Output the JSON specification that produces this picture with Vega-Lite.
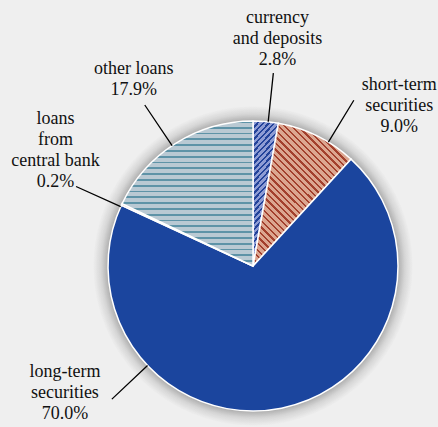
{
  "$schema": "https://vega.github.io/schema/vega-lite/v6.json",
  "autosize": {"type": "none"},
  "width": 370,
  "height": 322,
  "padding": {"left": 68, "top": 105, "right": 0, "bottom": 0},
  "background": "#efefef",
  "config": {"view": {"stroke": null}, "text": {"font": "Liberation Serif", "fontSize": 18, "lineHeight": 21, "lineBreak": "\n", "align": "center", "baseline": "middle", "color": "#111111"}},
  "datasets": {
    "shares": [
      {"cat": "currency and deposits", "share": 2.8, "ord": 1, "label": "currency\nand deposits\n2.8%", "line_at": 1.67, "label_at": 1.71},
      {"cat": "short-term securities", "share": 9.0, "ord": 2, "label": "short-term\nsecurities\n9.0%", "line_at": 8.69, "label_at": 11.75},
      {"cat": "long-term securities", "share": 70.0, "ord": 3, "label": "long-term\nsecurities\n70.0%", "line_at": 62.9, "label_at": 65.48},
      {"cat": "loans from central bank", "share": 0.2, "ord": 4, "label": "loans\nfrom\ncentral bank\n0.2%", "line_at": 81.64, "label_at": 83.37},
      {"cat": "other loans", "share": 17.9, "ord": 5, "label": "other loans\n17.9%", "line_at": 90.49, "label_at": 90.84}
    ]
  },
  "layer": [
    {
      "data": {"values": [{"halo": 1}]},
      "mark": {
        "type": "arc", "theta": 0, "theta2": 6.2832, "radius": 160,
        "fill": {"gradient": "radial", "x1": 0.5, "y1": 0.5, "r1": 0, "x2": 0.5, "y2": 0.5, "r2": 0.5,
          "stops": [
            {"offset": 0, "color": "rgba(60,60,60,0.4)"},
            {"offset": 0.9, "color": "rgba(60,60,60,0.4)"},
            {"offset": 0.95, "color": "rgba(60,60,60,0.14)"},
            {"offset": 1, "color": "rgba(60,60,60,0)"}
          ]}
      },
      "encoding": {}
    },
    {
      "data": {"name": "shares"},
      "mark": {"type": "arc", "radius": 145, "stroke": "#ffffff", "strokeWidth": 1.5},
      "encoding": {
        "theta": {"field": "share", "type": "quantitative", "stack": true},
        "detail": {"field": "cat"},
        "order": {"field": "ord", "type": "quantitative"},
        "fill": {
          "condition": [
            {"test": "datum.cat === 'currency and deposits'", "value": {"gradient": "linear", "x1": 0, "y1": 0, "x2": 0.19, "y2": 1, "stops": [
              {"offset": 0, "color": "#23439a"}, {"offset": 0.016, "color": "#23439a"}, {"offset": 0.016, "color": "#8e9cd4"}, {"offset": 0.04, "color": "#8e9cd4"},
              {"offset": 0.04, "color": "#23439a"}, {"offset": 0.056, "color": "#23439a"}, {"offset": 0.056, "color": "#8e9cd4"}, {"offset": 0.08, "color": "#8e9cd4"},
              {"offset": 0.08, "color": "#23439a"}, {"offset": 0.096, "color": "#23439a"}, {"offset": 0.096, "color": "#8e9cd4"}, {"offset": 0.12, "color": "#8e9cd4"},
              {"offset": 0.12, "color": "#23439a"}, {"offset": 0.136, "color": "#23439a"}, {"offset": 0.136, "color": "#8e9cd4"}, {"offset": 0.16, "color": "#8e9cd4"},
              {"offset": 0.16, "color": "#23439a"}, {"offset": 0.176, "color": "#23439a"}, {"offset": 0.176, "color": "#8e9cd4"}, {"offset": 0.2, "color": "#8e9cd4"},
              {"offset": 0.2, "color": "#23439a"}, {"offset": 0.216, "color": "#23439a"}, {"offset": 0.216, "color": "#8e9cd4"}, {"offset": 0.24, "color": "#8e9cd4"},
              {"offset": 0.24, "color": "#23439a"}, {"offset": 0.256, "color": "#23439a"}, {"offset": 0.256, "color": "#8e9cd4"}, {"offset": 0.28, "color": "#8e9cd4"},
              {"offset": 0.28, "color": "#23439a"}, {"offset": 0.296, "color": "#23439a"}, {"offset": 0.296, "color": "#8e9cd4"}, {"offset": 0.32, "color": "#8e9cd4"},
              {"offset": 0.32, "color": "#23439a"}, {"offset": 0.336, "color": "#23439a"}, {"offset": 0.336, "color": "#8e9cd4"}, {"offset": 0.36, "color": "#8e9cd4"},
              {"offset": 0.36, "color": "#23439a"}, {"offset": 0.376, "color": "#23439a"}, {"offset": 0.376, "color": "#8e9cd4"}, {"offset": 0.4, "color": "#8e9cd4"},
              {"offset": 0.4, "color": "#23439a"}, {"offset": 0.416, "color": "#23439a"}, {"offset": 0.416, "color": "#8e9cd4"}, {"offset": 0.44, "color": "#8e9cd4"},
              {"offset": 0.44, "color": "#23439a"}, {"offset": 0.456, "color": "#23439a"}, {"offset": 0.456, "color": "#8e9cd4"}, {"offset": 0.48, "color": "#8e9cd4"},
              {"offset": 0.48, "color": "#23439a"}, {"offset": 0.496, "color": "#23439a"}, {"offset": 0.496, "color": "#8e9cd4"}, {"offset": 0.52, "color": "#8e9cd4"},
              {"offset": 0.52, "color": "#23439a"}, {"offset": 0.536, "color": "#23439a"}, {"offset": 0.536, "color": "#8e9cd4"}, {"offset": 0.56, "color": "#8e9cd4"},
              {"offset": 0.56, "color": "#23439a"}, {"offset": 0.576, "color": "#23439a"}, {"offset": 0.576, "color": "#8e9cd4"}, {"offset": 0.6, "color": "#8e9cd4"},
              {"offset": 0.6, "color": "#23439a"}, {"offset": 0.616, "color": "#23439a"}, {"offset": 0.616, "color": "#8e9cd4"}, {"offset": 0.64, "color": "#8e9cd4"},
              {"offset": 0.64, "color": "#23439a"}, {"offset": 0.656, "color": "#23439a"}, {"offset": 0.656, "color": "#8e9cd4"}, {"offset": 0.68, "color": "#8e9cd4"},
              {"offset": 0.68, "color": "#23439a"}, {"offset": 0.696, "color": "#23439a"}, {"offset": 0.696, "color": "#8e9cd4"}, {"offset": 0.72, "color": "#8e9cd4"},
              {"offset": 0.72, "color": "#23439a"}, {"offset": 0.736, "color": "#23439a"}, {"offset": 0.736, "color": "#8e9cd4"}, {"offset": 0.76, "color": "#8e9cd4"},
              {"offset": 0.76, "color": "#23439a"}, {"offset": 0.776, "color": "#23439a"}, {"offset": 0.776, "color": "#8e9cd4"}, {"offset": 0.8, "color": "#8e9cd4"},
              {"offset": 0.8, "color": "#23439a"}, {"offset": 0.816, "color": "#23439a"}, {"offset": 0.816, "color": "#8e9cd4"}, {"offset": 0.84, "color": "#8e9cd4"},
              {"offset": 0.84, "color": "#23439a"}, {"offset": 0.856, "color": "#23439a"}, {"offset": 0.856, "color": "#8e9cd4"}, {"offset": 0.88, "color": "#8e9cd4"},
              {"offset": 0.88, "color": "#23439a"}, {"offset": 0.896, "color": "#23439a"}, {"offset": 0.896, "color": "#8e9cd4"}, {"offset": 0.92, "color": "#8e9cd4"},
              {"offset": 0.92, "color": "#23439a"}, {"offset": 0.936, "color": "#23439a"}, {"offset": 0.936, "color": "#8e9cd4"}, {"offset": 0.96, "color": "#8e9cd4"},
              {"offset": 0.96, "color": "#23439a"}, {"offset": 0.976, "color": "#23439a"}, {"offset": 0.976, "color": "#8e9cd4"}, {"offset": 1, "color": "#8e9cd4"}
            ]}},
            {"test": "datum.cat === 'short-term securities'", "value": {"gradient": "linear", "x1": 0, "y1": 1, "x2": 0.686, "y2": 0, "stops": [
              {"offset": 0, "color": "#a3402d"}, {"offset": 0.011, "color": "#a3402d"}, {"offset": 0.011, "color": "#dca690"}, {"offset": 0.03125, "color": "#dca690"},
              {"offset": 0.03125, "color": "#a3402d"}, {"offset": 0.04225, "color": "#a3402d"}, {"offset": 0.04225, "color": "#dca690"}, {"offset": 0.0625, "color": "#dca690"},
              {"offset": 0.0625, "color": "#a3402d"}, {"offset": 0.0735, "color": "#a3402d"}, {"offset": 0.0735, "color": "#dca690"}, {"offset": 0.09375, "color": "#dca690"},
              {"offset": 0.09375, "color": "#a3402d"}, {"offset": 0.10475, "color": "#a3402d"}, {"offset": 0.10475, "color": "#dca690"}, {"offset": 0.125, "color": "#dca690"},
              {"offset": 0.125, "color": "#a3402d"}, {"offset": 0.136, "color": "#a3402d"}, {"offset": 0.136, "color": "#dca690"}, {"offset": 0.15625, "color": "#dca690"},
              {"offset": 0.15625, "color": "#a3402d"}, {"offset": 0.16725, "color": "#a3402d"}, {"offset": 0.16725, "color": "#dca690"}, {"offset": 0.1875, "color": "#dca690"},
              {"offset": 0.1875, "color": "#a3402d"}, {"offset": 0.1985, "color": "#a3402d"}, {"offset": 0.1985, "color": "#dca690"}, {"offset": 0.21875, "color": "#dca690"},
              {"offset": 0.21875, "color": "#a3402d"}, {"offset": 0.22975, "color": "#a3402d"}, {"offset": 0.22975, "color": "#dca690"}, {"offset": 0.25, "color": "#dca690"},
              {"offset": 0.25, "color": "#a3402d"}, {"offset": 0.261, "color": "#a3402d"}, {"offset": 0.261, "color": "#dca690"}, {"offset": 0.28125, "color": "#dca690"},
              {"offset": 0.28125, "color": "#a3402d"}, {"offset": 0.29225, "color": "#a3402d"}, {"offset": 0.29225, "color": "#dca690"}, {"offset": 0.3125, "color": "#dca690"},
              {"offset": 0.3125, "color": "#a3402d"}, {"offset": 0.3235, "color": "#a3402d"}, {"offset": 0.3235, "color": "#dca690"}, {"offset": 0.34375, "color": "#dca690"},
              {"offset": 0.34375, "color": "#a3402d"}, {"offset": 0.35475, "color": "#a3402d"}, {"offset": 0.35475, "color": "#dca690"}, {"offset": 0.375, "color": "#dca690"},
              {"offset": 0.375, "color": "#a3402d"}, {"offset": 0.386, "color": "#a3402d"}, {"offset": 0.386, "color": "#dca690"}, {"offset": 0.40625, "color": "#dca690"},
              {"offset": 0.40625, "color": "#a3402d"}, {"offset": 0.41725, "color": "#a3402d"}, {"offset": 0.41725, "color": "#dca690"}, {"offset": 0.4375, "color": "#dca690"},
              {"offset": 0.4375, "color": "#a3402d"}, {"offset": 0.4485, "color": "#a3402d"}, {"offset": 0.4485, "color": "#dca690"}, {"offset": 0.46875, "color": "#dca690"},
              {"offset": 0.46875, "color": "#a3402d"}, {"offset": 0.47975, "color": "#a3402d"}, {"offset": 0.47975, "color": "#dca690"}, {"offset": 0.5, "color": "#dca690"},
              {"offset": 0.5, "color": "#a3402d"}, {"offset": 0.511, "color": "#a3402d"}, {"offset": 0.511, "color": "#dca690"}, {"offset": 0.53125, "color": "#dca690"},
              {"offset": 0.53125, "color": "#a3402d"}, {"offset": 0.54225, "color": "#a3402d"}, {"offset": 0.54225, "color": "#dca690"}, {"offset": 0.5625, "color": "#dca690"},
              {"offset": 0.5625, "color": "#a3402d"}, {"offset": 0.5735, "color": "#a3402d"}, {"offset": 0.5735, "color": "#dca690"}, {"offset": 0.59375, "color": "#dca690"},
              {"offset": 0.59375, "color": "#a3402d"}, {"offset": 0.60475, "color": "#a3402d"}, {"offset": 0.60475, "color": "#dca690"}, {"offset": 0.625, "color": "#dca690"},
              {"offset": 0.625, "color": "#a3402d"}, {"offset": 0.636, "color": "#a3402d"}, {"offset": 0.636, "color": "#dca690"}, {"offset": 0.65625, "color": "#dca690"},
              {"offset": 0.65625, "color": "#a3402d"}, {"offset": 0.66725, "color": "#a3402d"}, {"offset": 0.66725, "color": "#dca690"}, {"offset": 0.6875, "color": "#dca690"},
              {"offset": 0.6875, "color": "#a3402d"}, {"offset": 0.6985, "color": "#a3402d"}, {"offset": 0.6985, "color": "#dca690"}, {"offset": 0.71875, "color": "#dca690"},
              {"offset": 0.71875, "color": "#a3402d"}, {"offset": 0.72975, "color": "#a3402d"}, {"offset": 0.72975, "color": "#dca690"}, {"offset": 0.75, "color": "#dca690"},
              {"offset": 0.75, "color": "#a3402d"}, {"offset": 0.761, "color": "#a3402d"}, {"offset": 0.761, "color": "#dca690"}, {"offset": 0.78125, "color": "#dca690"},
              {"offset": 0.78125, "color": "#a3402d"}, {"offset": 0.79225, "color": "#a3402d"}, {"offset": 0.79225, "color": "#dca690"}, {"offset": 0.8125, "color": "#dca690"},
              {"offset": 0.8125, "color": "#a3402d"}, {"offset": 0.8235, "color": "#a3402d"}, {"offset": 0.8235, "color": "#dca690"}, {"offset": 0.84375, "color": "#dca690"},
              {"offset": 0.84375, "color": "#a3402d"}, {"offset": 0.85475, "color": "#a3402d"}, {"offset": 0.85475, "color": "#dca690"}, {"offset": 0.875, "color": "#dca690"},
              {"offset": 0.875, "color": "#a3402d"}, {"offset": 0.886, "color": "#a3402d"}, {"offset": 0.886, "color": "#dca690"}, {"offset": 0.90625, "color": "#dca690"},
              {"offset": 0.90625, "color": "#a3402d"}, {"offset": 0.91725, "color": "#a3402d"}, {"offset": 0.91725, "color": "#dca690"}, {"offset": 0.9375, "color": "#dca690"},
              {"offset": 0.9375, "color": "#a3402d"}, {"offset": 0.9485, "color": "#a3402d"}, {"offset": 0.9485, "color": "#dca690"}, {"offset": 0.96875, "color": "#dca690"},
              {"offset": 0.96875, "color": "#a3402d"}, {"offset": 0.97975, "color": "#a3402d"}, {"offset": 0.97975, "color": "#dca690"}, {"offset": 1, "color": "#dca690"}
            ]}},
            {"test": "datum.cat === 'loans from central bank'", "value": "#d9967f"},
            {"test": "datum.cat === 'other loans'", "value": {"gradient": "linear", "x1": 0, "y1": 0, "x2": 0, "y2": 1, "stops": [
              {"offset": 0, "color": "#5e93a7"}, {"offset": 0.012, "color": "#5e93a7"}, {"offset": 0.012, "color": "#b9c9d3"}, {"offset": 0.04, "color": "#b9c9d3"},
              {"offset": 0.04, "color": "#5e93a7"}, {"offset": 0.052, "color": "#5e93a7"}, {"offset": 0.052, "color": "#b9c9d3"}, {"offset": 0.08, "color": "#b9c9d3"},
              {"offset": 0.08, "color": "#5e93a7"}, {"offset": 0.092, "color": "#5e93a7"}, {"offset": 0.092, "color": "#b9c9d3"}, {"offset": 0.12, "color": "#b9c9d3"},
              {"offset": 0.12, "color": "#5e93a7"}, {"offset": 0.132, "color": "#5e93a7"}, {"offset": 0.132, "color": "#b9c9d3"}, {"offset": 0.16, "color": "#b9c9d3"},
              {"offset": 0.16, "color": "#5e93a7"}, {"offset": 0.172, "color": "#5e93a7"}, {"offset": 0.172, "color": "#b9c9d3"}, {"offset": 0.2, "color": "#b9c9d3"},
              {"offset": 0.2, "color": "#5e93a7"}, {"offset": 0.212, "color": "#5e93a7"}, {"offset": 0.212, "color": "#b9c9d3"}, {"offset": 0.24, "color": "#b9c9d3"},
              {"offset": 0.24, "color": "#5e93a7"}, {"offset": 0.252, "color": "#5e93a7"}, {"offset": 0.252, "color": "#b9c9d3"}, {"offset": 0.28, "color": "#b9c9d3"},
              {"offset": 0.28, "color": "#5e93a7"}, {"offset": 0.292, "color": "#5e93a7"}, {"offset": 0.292, "color": "#b9c9d3"}, {"offset": 0.32, "color": "#b9c9d3"},
              {"offset": 0.32, "color": "#5e93a7"}, {"offset": 0.332, "color": "#5e93a7"}, {"offset": 0.332, "color": "#b9c9d3"}, {"offset": 0.36, "color": "#b9c9d3"},
              {"offset": 0.36, "color": "#5e93a7"}, {"offset": 0.372, "color": "#5e93a7"}, {"offset": 0.372, "color": "#b9c9d3"}, {"offset": 0.4, "color": "#b9c9d3"},
              {"offset": 0.4, "color": "#5e93a7"}, {"offset": 0.412, "color": "#5e93a7"}, {"offset": 0.412, "color": "#b9c9d3"}, {"offset": 0.44, "color": "#b9c9d3"},
              {"offset": 0.44, "color": "#5e93a7"}, {"offset": 0.452, "color": "#5e93a7"}, {"offset": 0.452, "color": "#b9c9d3"}, {"offset": 0.48, "color": "#b9c9d3"},
              {"offset": 0.48, "color": "#5e93a7"}, {"offset": 0.492, "color": "#5e93a7"}, {"offset": 0.492, "color": "#b9c9d3"}, {"offset": 0.52, "color": "#b9c9d3"},
              {"offset": 0.52, "color": "#5e93a7"}, {"offset": 0.532, "color": "#5e93a7"}, {"offset": 0.532, "color": "#b9c9d3"}, {"offset": 0.56, "color": "#b9c9d3"},
              {"offset": 0.56, "color": "#5e93a7"}, {"offset": 0.572, "color": "#5e93a7"}, {"offset": 0.572, "color": "#b9c9d3"}, {"offset": 0.6, "color": "#b9c9d3"},
              {"offset": 0.6, "color": "#5e93a7"}, {"offset": 0.612, "color": "#5e93a7"}, {"offset": 0.612, "color": "#b9c9d3"}, {"offset": 0.64, "color": "#b9c9d3"},
              {"offset": 0.64, "color": "#5e93a7"}, {"offset": 0.652, "color": "#5e93a7"}, {"offset": 0.652, "color": "#b9c9d3"}, {"offset": 0.68, "color": "#b9c9d3"},
              {"offset": 0.68, "color": "#5e93a7"}, {"offset": 0.692, "color": "#5e93a7"}, {"offset": 0.692, "color": "#b9c9d3"}, {"offset": 0.72, "color": "#b9c9d3"},
              {"offset": 0.72, "color": "#5e93a7"}, {"offset": 0.732, "color": "#5e93a7"}, {"offset": 0.732, "color": "#b9c9d3"}, {"offset": 0.76, "color": "#b9c9d3"},
              {"offset": 0.76, "color": "#5e93a7"}, {"offset": 0.772, "color": "#5e93a7"}, {"offset": 0.772, "color": "#b9c9d3"}, {"offset": 0.8, "color": "#b9c9d3"},
              {"offset": 0.8, "color": "#5e93a7"}, {"offset": 0.812, "color": "#5e93a7"}, {"offset": 0.812, "color": "#b9c9d3"}, {"offset": 0.84, "color": "#b9c9d3"},
              {"offset": 0.84, "color": "#5e93a7"}, {"offset": 0.852, "color": "#5e93a7"}, {"offset": 0.852, "color": "#b9c9d3"}, {"offset": 0.88, "color": "#b9c9d3"},
              {"offset": 0.88, "color": "#5e93a7"}, {"offset": 0.892, "color": "#5e93a7"}, {"offset": 0.892, "color": "#b9c9d3"}, {"offset": 0.92, "color": "#b9c9d3"},
              {"offset": 0.92, "color": "#5e93a7"}, {"offset": 0.932, "color": "#5e93a7"}, {"offset": 0.932, "color": "#b9c9d3"}, {"offset": 0.96, "color": "#b9c9d3"},
              {"offset": 0.96, "color": "#5e93a7"}, {"offset": 0.972, "color": "#5e93a7"}, {"offset": 0.972, "color": "#b9c9d3"}, {"offset": 1, "color": "#b9c9d3"}
            ]}}
          ],
          "value": "#1b459e"
        }
      }
    },
    {
      "data": {"name": "shares"},
      "mark": {"type": "arc", "radius": 145, "radius2": 194, "fill": "transparent", "stroke": "#000000", "strokeWidth": 1.3},
      "encoding": {
        "theta": {"field": "line_at", "type": "quantitative"},
        "theta2": {"field": "line_at"}
      }
    },
    {
      "data": {"name": "shares"},
      "transform": [{"filter": "datum.cat === 'currency and deposits'"}],
      "mark": {"type": "text", "radius": 228, "dy": -21},
      "encoding": {
        "theta": {"field": "label_at", "type": "quantitative", "stack": null},
        "text": {"field": "label"}
      }
    },
    {
      "data": {"name": "shares"},
      "transform": [{"filter": "datum.cat === 'short-term securities'"}],
      "mark": {"type": "text", "radius": 217, "dy": -21},
      "encoding": {
        "theta": {"field": "label_at", "type": "quantitative", "stack": null},
        "text": {"field": "label"}
      }
    },
    {
      "data": {"name": "shares"},
      "transform": [{"filter": "datum.cat === 'long-term securities'"}],
      "mark": {"type": "text", "radius": 227, "dy": -21},
      "encoding": {
        "theta": {"field": "label_at", "type": "quantitative", "stack": null},
        "text": {"field": "label"}
      }
    },
    {
      "data": {"name": "shares"},
      "transform": [{"filter": "datum.cat === 'loans from central bank'"}],
      "mark": {"type": "text", "radius": 229, "dy": -31.5},
      "encoding": {
        "theta": {"field": "label_at", "type": "quantitative", "stack": null},
        "text": {"field": "label"}
      }
    },
    {
      "data": {"name": "shares"},
      "transform": [{"filter": "datum.cat === 'other loans'"}],
      "mark": {"type": "text", "radius": 221, "dy": -10.5},
      "encoding": {
        "theta": {"field": "label_at", "type": "quantitative", "stack": null},
        "text": {"field": "label"}
      }
    }
  ]
}
